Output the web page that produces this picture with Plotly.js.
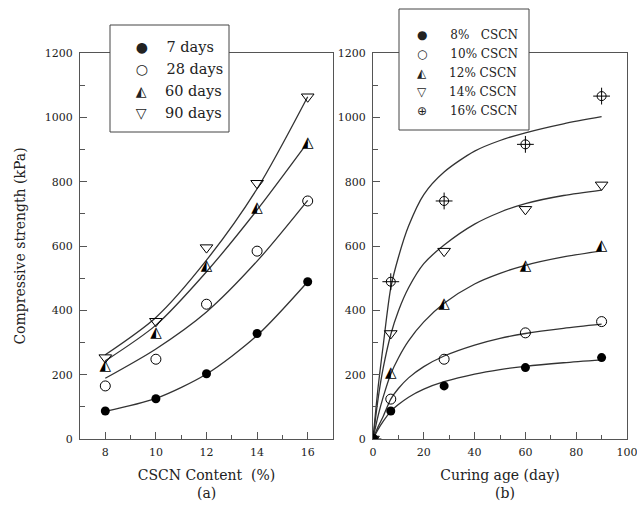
<!DOCTYPE html>
<html><head><meta charset="utf-8">
<script src="https://cdn.plot.ly/plotly-3.0.1.min.js"></script>
<style>html,body{margin:0;padding:0;background:#fff}#chart{width:637px;height:508px}</style>
</head><body><div id="chart"></div>
<script>
// ---------- Panel (a): strength vs CSCN content, one series per curing age ----------
const contents = [8, 10, 12, 14, 16];
const d7  = [87, 125, 203, 328, 489];
const d28 = [165, 248, 419, 584, 740];
const d60 = [227, 330, 536, 718, 921];
const d90 = [253, 366, 595, 795, 1064];
// fitted curves of panel (a), read at the same contents
const fit7  = [86, 126, 202, 322, 489];
const fit28 = [189, 280, 395, 553, 742];
const fit60 = [243, 354, 520, 712, 922];
const fit90 = [262, 378, 556, 778, 1064];
const ageNames = ['7 days', '28 days', '60 days', '90 days'];

// ---------- Panel (b): strength vs curing age, one series per CSCN content ----------
const ages = [0, 7, 28, 60, 90];
const c8  = [0, 87, 165, 222, 253];
const c10 = [0, 124, 248, 330, 365];
const c12 = [0, 204, 419, 536, 598];
const c14 = [0, 328, 584, 714, 790];
const c16 = [0, 489, 740, 916, 1066];
// fitted curves of panel (b), read at these ages
const fitAges = [0, 2, 4, 7, 10, 14, 20, 28, 40, 50, 60, 75, 90];
const fc8  = [0, 30, 55, 86, 107, 130, 155, 178, 202, 216, 226, 237, 246];
const fc10 = [0, 38, 70, 124, 157, 190, 225, 258, 292, 313, 328, 344, 357];
const fc12 = [0, 72, 130, 202, 252, 305, 364, 422, 482, 515, 540, 566, 585];
const fc14 = [0, 125, 220, 325, 398, 470, 545, 603, 668, 705, 732, 757, 774];
const fc16 = [0, 160, 290, 470, 565, 662, 760, 830, 895, 928, 952, 980, 1002];
const cscnNames = ['8%&nbsp;&nbsp;&nbsp;CSCN', '10% CSCN', '12% CSCN', '14% CSCN', '16% CSCN'];
const glyphs = ['●', '○', '◭', '▽', '⊕'];

const LINE = '#333';
const AX = '#555';
const TXT = '#222';
const SERIF = 'DejaVu Serif';

function curve(x, y, xa, ya) {
  return {x: x, y: y, xaxis: xa, yaxis: ya, mode: 'lines', showlegend: false, hoverinfo: 'skip',
          line: {color: LINE, width: 1.3, shape: 'spline', smoothing: 0.8}};
}
function pts(x, y, xa, ya, symbol, size, lw) {
  return {x: x, y: y, xaxis: xa, yaxis: ya, mode: 'markers', showlegend: false,
          marker: {symbol: symbol, size: size, color: '#000', line: {color: '#000', width: lw}}};
}
function halfTri(x, y, xa, ya) {
  return {x: x, y: y, xaxis: xa, yaxis: ya, mode: 'text', showlegend: false,
          text: x.map(() => '◭'), textposition: 'middle center',
          textfont: {family: 'DejaVu Sans', size: 15, color: '#000'}};
}
function legendEntry(glyph, name, legend, gsize, gap) {
  return {x: [null], y: [null], mode: 'markers', hoverinfo: 'skip', legend: legend,
          marker: {size: 1, color: 'rgba(0,0,0,0)', line: {width: 0}},
          name: '<span style="font-family:DejaVu Sans;font-size:' + gsize + 'px">' + glyph + '</span>' + gap + name};
}

const traces = [
  curve(contents, fit7, 'x', 'y'), curve(contents, fit28, 'x', 'y'),
  curve(contents, fit60, 'x', 'y'), curve(contents, fit90, 'x', 'y'),
  pts(contents, d7, 'x', 'y', 'circle', 9, 0),
  pts(contents, d28, 'x', 'y', 'circle-open', 10, 1),
  halfTri(contents, d60, 'x', 'y'),
  pts(contents, d90, 'x', 'y', 'triangle-down-open', 11, 1),

  curve(fitAges, fc8, 'x2', 'y2'), curve(fitAges, fc10, 'x2', 'y2'),
  curve(fitAges, fc12, 'x2', 'y2'), curve(fitAges, fc14, 'x2', 'y2'),
  curve(fitAges, fc16, 'x2', 'y2'),
  pts(ages, c8, 'x2', 'y2', 'circle', 9, 0),
  pts(ages, c10, 'x2', 'y2', 'circle-open', 10, 1),
  halfTri(ages, c12, 'x2', 'y2'),
  pts(ages, c14, 'x2', 'y2', 'triangle-down-open', 11, 1),
  pts(ages, c16, 'x2', 'y2', 'circle-open', 9, 1),
  pts(ages, c16, 'x2', 'y2', 'cross-thin-open', 12, 1)
];
ageNames.forEach((n, i) => traces.push(legendEntry(glyphs[i], n, 'legend', 14, '&nbsp;&nbsp;&nbsp;&nbsp;')));
cscnNames.forEach((n, i) => traces.push(legendEntry(glyphs[i], n, 'legend2', 12, '&nbsp;&nbsp;&nbsp;&nbsp;&nbsp;&nbsp;')));

const W = 592, H = 453, ML = 40, MT = 5;
const px = v => (v - ML) / W;
const py = v => (MT + H - v) / H;

function xAxis(domain, range, dtick, mdtick, anchor, title) {
  return {domain: domain, range: range, anchor: anchor, tick0: 0, dtick: dtick,
          showline: true, mirror: true, linecolor: AX, linewidth: 1,
          ticks: 'inside', ticklen: 7, tickcolor: AX, tickwidth: 1,
          minor: {dtick: mdtick, ticks: 'inside', ticklen: 4, tickcolor: AX, tickwidth: 1, showgrid: false},
          showgrid: false, zeroline: false, ticklabelstandoff: 3, ticklabeloverflow: 'allow',
          tickfont: {family: SERIF, size: 11, color: TXT},
          title: {text: title, font: {family: SERIF, size: 14, color: TXT}, standoff: 11}};
}
function yAxis(anchor, title) {
  return {domain: [py(439), py(53)], range: [0, 1200], anchor: anchor, tick0: 0, dtick: 200,
          showline: true, mirror: true, linecolor: AX, linewidth: 1,
          ticks: 'inside', ticklen: 7, tickcolor: AX, tickwidth: 1,
          minor: {dtick: 100, ticks: 'inside', ticklen: 5, tickcolor: AX, tickwidth: 1, showgrid: false},
          showgrid: false, zeroline: false, ticklabelstandoff: 4,
          tickfont: {family: SERIF, size: 11, color: TXT},
          title: {text: title, font: {family: SERIF, size: 14, color: TXT}, standoff: 15}};
}

const layout = {
  width: 637, height: 508,
  margin: {l: ML, r: 637 - ML - W, t: MT, b: 508 - MT - H},
  paper_bgcolor: '#fff', plot_bgcolor: '#fff',
  xaxis: xAxis([px(80), px(333)], [7, 17], 2, 1, 'y', 'CSCN Content&nbsp;&nbsp;(%)'),
  yaxis: yAxis('x', 'Compressive strength (kPa)'),
  xaxis2: xAxis([px(373), px(627)], [0, 100], 20, 10, 'y2', 'Curing age (day)'),
  yaxis2: yAxis('x2', ''),
  shapes: [
    {type: 'rect', xref: 'paper', yref: 'paper', x0: px(110), x1: px(229), y0: py(132), y1: py(25),
     fillcolor: '#fff', line: {color: '#444', width: 1}, layer: 'above'},
    {type: 'rect', xref: 'paper', yref: 'paper', x0: px(399), x1: px(529), y0: py(130), y1: py(9),
     fillcolor: '#fff', line: {color: '#444', width: 1}, layer: 'above'}
  ],
  legend: {x: px(95.8), xanchor: 'left', y: py(30.7), yanchor: 'top', bgcolor: 'rgba(0,0,0,0)', borderwidth: 0,
           font: {family: SERIF, size: 14.5, color: TXT}},
  legend2: {x: px(377), xanchor: 'left', y: py(19.5), yanchor: 'top', bgcolor: 'rgba(0,0,0,0)', borderwidth: 0,
            font: {family: SERIF, size: 12, color: TXT}},
  annotations: [
    {text: '(a)', xref: 'paper', yref: 'paper', x: px(206.7), y: py(493), showarrow: false,
     xanchor: 'center', yanchor: 'middle', font: {family: SERIF, size: 14, color: TXT}},
    {text: '(b)', xref: 'paper', yref: 'paper', x: px(505), y: py(493), showarrow: false,
     xanchor: 'center', yanchor: 'middle', font: {family: SERIF, size: 14, color: TXT}}
  ],
  showlegend: true
};

Plotly.newPlot('chart', traces, layout, {displayModeBar: false, staticPlot: true});
</script></body></html>
